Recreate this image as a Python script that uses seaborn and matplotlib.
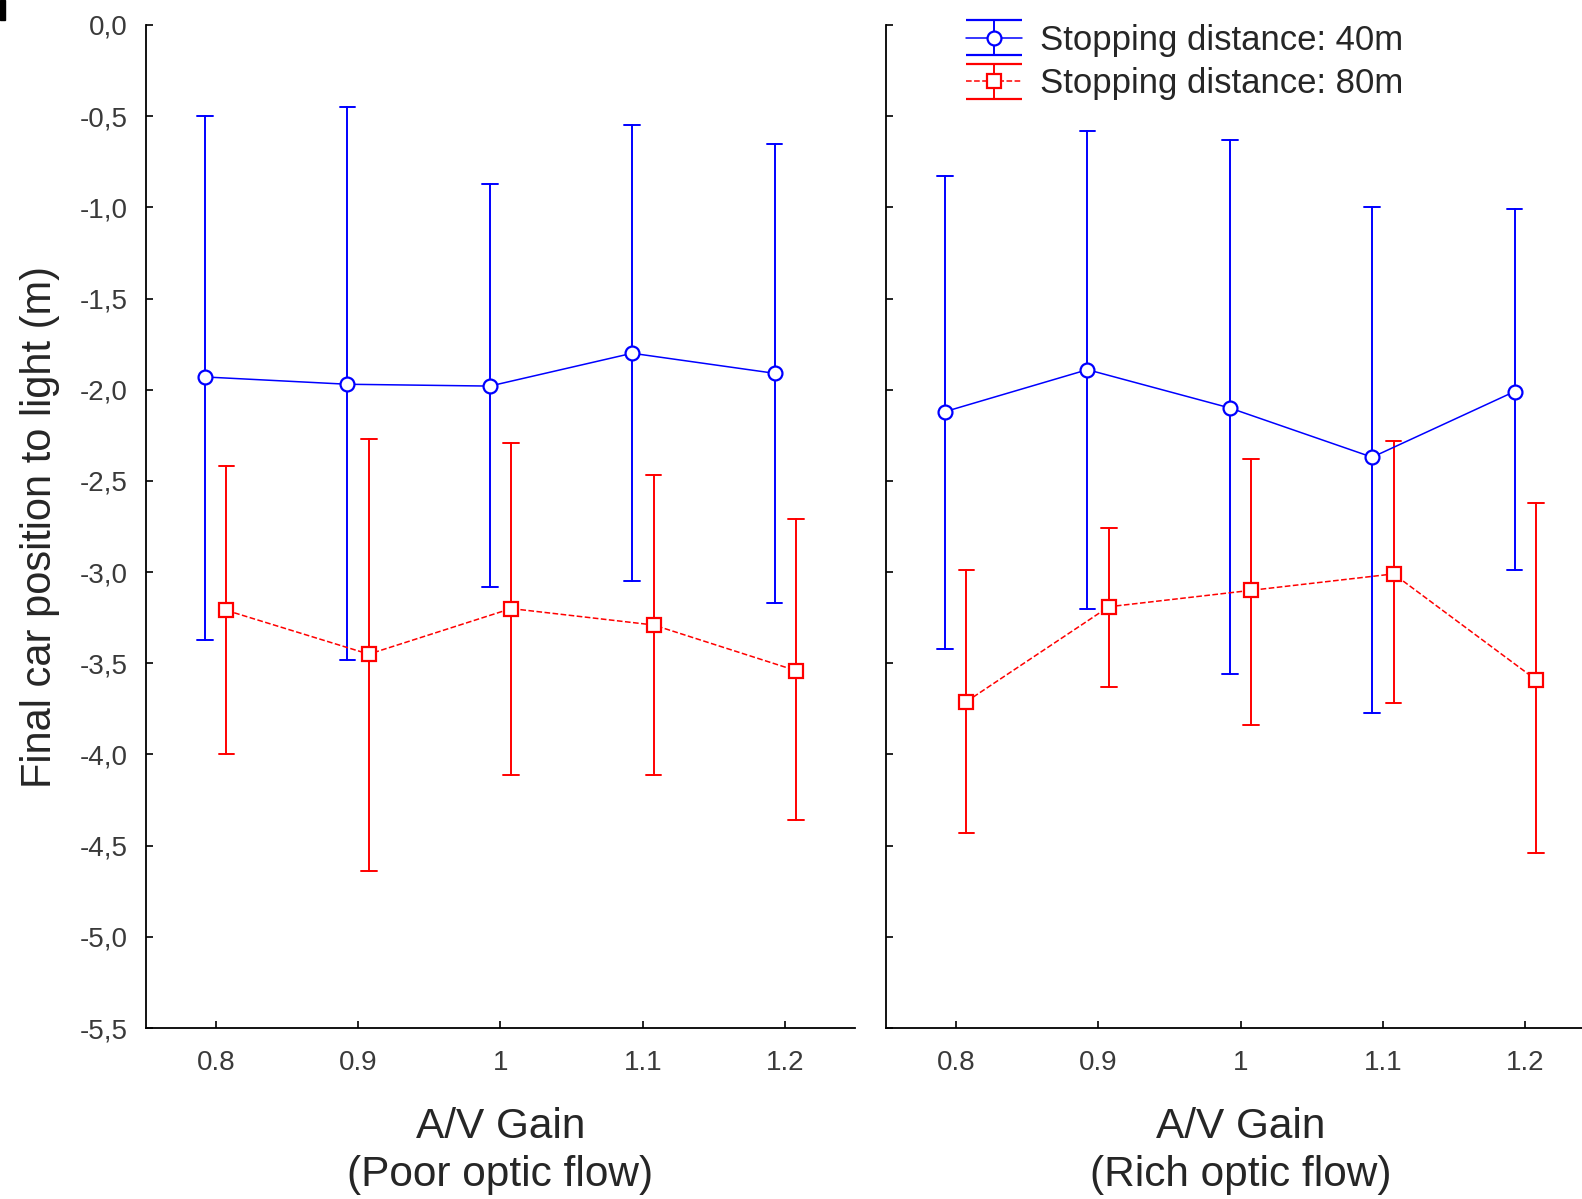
import numpy as np
import pandas as pd
import matplotlib
matplotlib.use("Agg")
import matplotlib.pyplot as plt
from matplotlib.patches import Rectangle
import seaborn as sns

# A/V gain levels and the two optic-flow conditions
gains = ["0.8", "0.9", "1", "1.1", "1.2"]
series = ["Stopping distance: 40m", "Stopping distance: 80m"]
xlabels = ["A/V Gain\n(Poor optic flow)", "A/V Gain\n(Rich optic flow)"]

# poor optic flow
poor_40_mean = [-1.93, -1.97, -1.98, -1.80, -1.91]
poor_40_low = [-3.37, -3.48, -3.08, -3.05, -3.17]
poor_40_high = [-0.50, -0.45, -0.87, -0.55, -0.65]
poor_80_mean = [-3.21, -3.45, -3.20, -3.29, -3.54]
poor_80_low = [-4.00, -4.64, -4.11, -4.11, -4.36]
poor_80_high = [-2.42, -2.27, -2.29, -2.47, -2.71]

# rich optic flow
rich_40_mean = [-2.12, -1.89, -2.10, -2.37, -2.01]
rich_40_low = [-3.42, -3.20, -3.56, -3.77, -2.99]
rich_40_high = [-0.83, -0.58, -0.63, -1.00, -1.01]
rich_80_mean = [-3.71, -3.19, -3.10, -3.01, -3.59]
rich_80_low = [-4.43, -3.63, -3.84, -3.72, -4.54]
rich_80_high = [-2.99, -2.76, -2.38, -2.28, -2.62]

colors = {series[0]: "#0000ff", series[1]: "#ff0000"}


def long_table(groups):
    # mean / low / high for every point -> median gives the mean, min-max gives the bar
    rows = []
    for name, (mean, low, high) in zip(series, groups):
        for g, m, lo, hi in zip(gains, mean, low, high):
            for v in (lo, m, hi):
                rows.append({"gain": g, "series": name, "value": v})
    return pd.DataFrame(rows)


panels = [
    long_table([(poor_40_mean, poor_40_low, poor_40_high),
                (poor_80_mean, poor_80_low, poor_80_high)]),
    long_table([(rich_40_mean, rich_40_low, rich_40_high),
                (rich_80_mean, rich_80_low, rich_80_high)]),
]

sns.set_style("ticks")
plt.rcParams["font.family"] = ["Liberation Sans", "DejaVu Sans"]

fig = plt.figure(figsize=(15.82, 11.99), dpi=100)
# the right panel runs slightly past the image edge, as in the original
ax1 = fig.add_axes([146 / 1582, 1 - 1028 / 1199, 709 / 1582, 1003 / 1199])
ax2 = fig.add_axes([886 / 1582, 1 - 1028 / 1199, 709 / 1582, 1003 / 1199])

for ax, df, xl in zip([ax1, ax2], panels, xlabels):
    sns.pointplot(data=df, x="gain", y="value", hue="series", order=gains,
                  hue_order=series, palette=colors, estimator="median",
                  errorbar=lambda v: (v.min(), v.max()), dodge=0.15,
                  markers=["o", "s"], linestyles=["-", "--"], capsize=0.11,
                  err_kws={"linewidth": 1.4, "linestyle": "-"},
                  linewidth=1.1, markersize=10, markeredgewidth=1.6,
                  legend=False, ax=ax)
    for ln in ax.lines:
        if ln.get_marker() not in (None, "None", "", " "):
            ln.set_markerfacecolor("white")
            ln.set_zorder(4)
    ax.set_xlim(-0.49, 4.49)
    ax.set_ylim(-5.5, 0)
    yt = np.arange(-5.5, 0.01, 0.5)
    ax.set_yticks(yt)
    ax.set_xlabel(xl, fontsize=30.5, linespacing=1.25, labelpad=22)
    ax.set_ylabel("")
    ax.tick_params(direction="in", length=5, width=1.2, colors="black",
                   labelcolor="#3a3a3a", labelsize=20, pad=13)
    ax.tick_params(axis="x", pad=16)
    for s in ["top", "right"]:
        ax.spines[s].set_visible(False)
    for s in ["left", "bottom"]:
        ax.spines[s].set_linewidth(1.3)
        ax.spines[s].set_color("black")

ax1.set_yticklabels([f"{v:.1f}".replace(".", ",") for v in yt])
ax2.set_yticklabels([])
ax1.set_ylabel("Final car position to light (m)", fontsize=30, labelpad=14)

# legend with errorbar-style handles
handles = []
for name, mk, ls in zip(series, ["o", "s"], ["-", "--"]):
    h = ax2.errorbar([np.nan], [np.nan], yerr=[0.1], color=colors[name], marker=mk,
                     ls=ls, lw=1.1, markersize=10, markeredgewidth=1.6,
                     markerfacecolor="white", capsize=20, elinewidth=1.4,
                     label=name)
    handles.append(h)
fig.legend(handles=handles, labels=series, loc="upper left",
           bbox_to_anchor=(966 / 1582, 1 - 24 / 1199), frameon=False,
           fontsize=25, handlelength=1.6, handletextpad=0.52, labelspacing=0.3,
           borderpad=0, borderaxespad=0)

# small black mark in the top-left corner
fig.patches.append(Rectangle((0, 1 - 20 / 1199), 5 / 1582, 20 / 1199,
                             transform=fig.transFigure, color="black"))

fig.savefig("out.png", dpi=100)
